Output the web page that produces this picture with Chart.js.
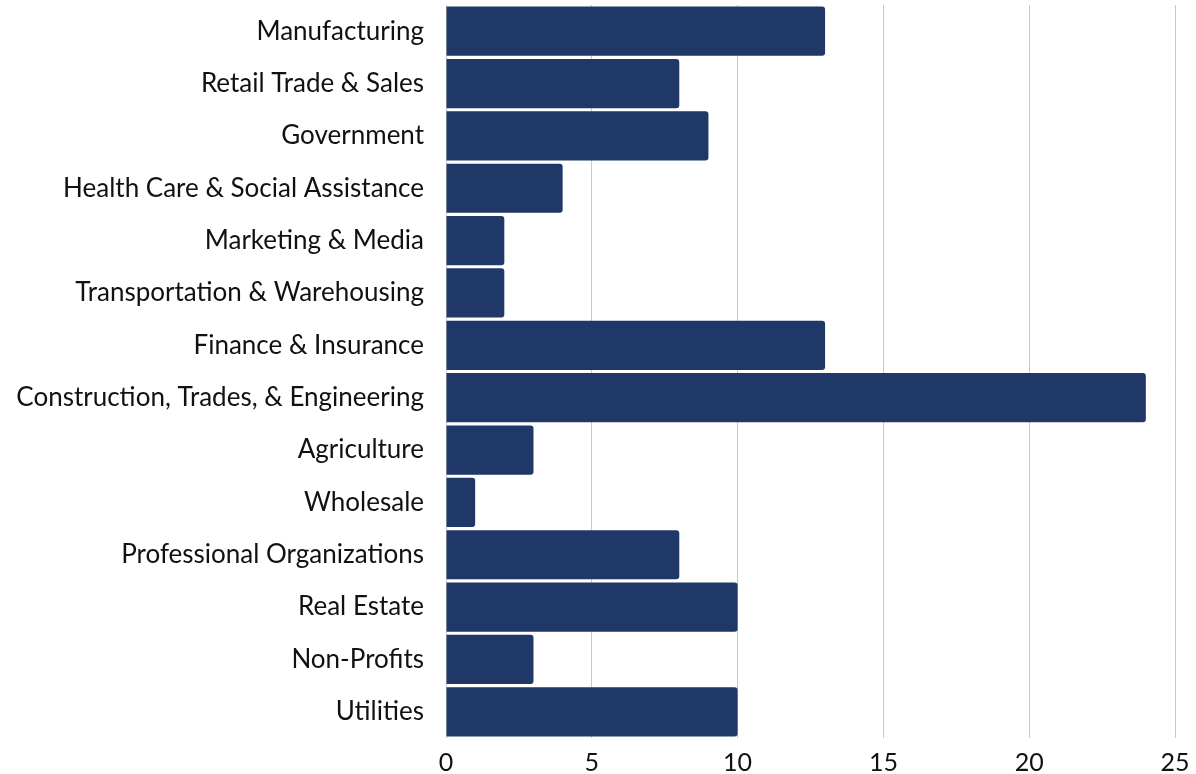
<!DOCTYPE html>
<html>
<head>
<meta charset="utf-8">
<script src="https://cdn.jsdelivr.net/npm/chart.js@4"></script>
<style>
  html, body { margin: 0; padding: 0; background: #fff; }
  #wrap { width: 1196px; height: 774px; }
</style>
</head>
<body>
<div id="wrap"><canvas id="chart"></canvas></div>
<script>
const industries = [
  "Manufacturing",
  "Retail Trade & Sales",
  "Government",
  "Health Care & Social Assistance",
  "Marketing & Media",
  "Transportation & Warehousing",
  "Finance & Insurance",
  "Construction, Trades, & Engineering",
  "Agriculture",
  "Wholesale",
  "Professional Organizations",
  "Real Estate",
  "Non-Profits",
  "Utilities"
];
const counts = [13, 8, 9, 4, 2, 2, 13, 24, 3, 1, 8, 10, 3, 10];
const xTicks = [0, 5, 10, 15, 20, 25];

const FONT = "Lato, 'Noto Sans', sans-serif";

const ctx = document.getElementById("chart").getContext("2d");
new Chart(ctx, {
  type: "bar",
  data: {
    labels: industries,
    datasets: [{
      data: counts,
      backgroundColor: "#1f3868",
      borderWidth: 0,
      borderRadius: 3,
      borderSkipped: "start",
      barPercentage: 0.94,
      categoryPercentage: 1.0
    }]
  },
  options: {
    indexAxis: "y",
    responsive: true,
    maintainAspectRatio: false,
    animation: false,
    layout: { padding: { top: 5, right: 21, bottom: 0, left: 0 } },
    plugins: {
      legend: { display: false },
      tooltip: { enabled: false }
    },
    scales: {
      x: {
        min: 0,
        max: 25,
        afterBuildTicks: (axis) => { axis.ticks = xTicks.map((v) => ({ value: v })); },
        afterFit: (axis) => {
          axis.height = 36;
          axis.paddingTop = 0; axis.paddingBottom = 0;
          axis.paddingLeft = 0; axis.paddingRight = 0;
        },
        grid: { color: "#c8c8c8", lineWidth: 1, drawTicks: false },
        border: { display: false },
        ticks: {
          color: "#111",
          font: { family: FONT, size: 25 },
          padding: 10
        }
      },
      y: {
        afterFit: (axis) => { axis.width = 446; axis.paddingTop = 0; axis.paddingBottom = 0; },
        grid: { display: false, drawTicks: false },
        border: { display: false },
        ticks: {
          color: "#111",
          font: { family: FONT, size: 26 },
          padding: 22,
          autoSkip: false
        }
      }
    }
  }
});
</script>
</body>
</html>
